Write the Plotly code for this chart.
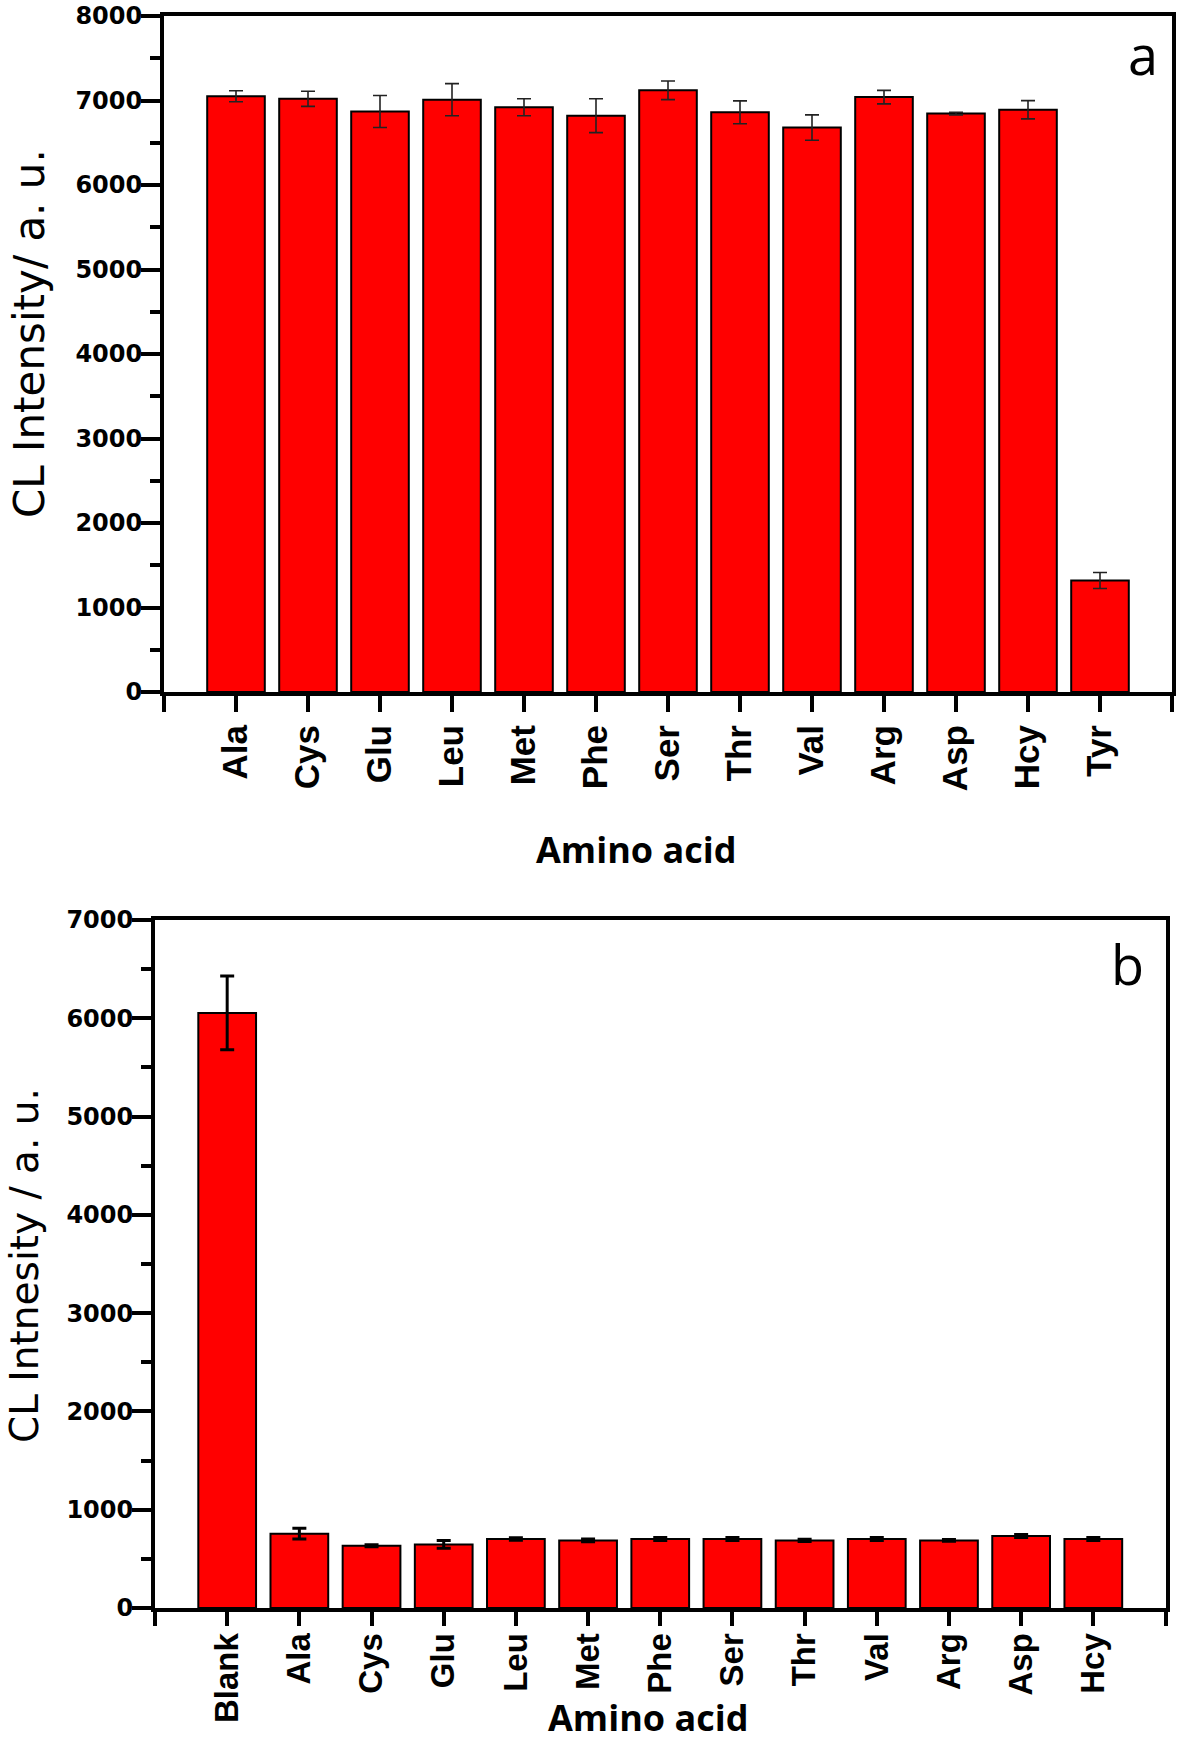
import plotly.graph_objects as go

# ---------------- data ----------------
cats_a = ["Ala", "Cys", "Glu", "Leu", "Met", "Phe", "Ser", "Thr", "Val", "Arg", "Asp", "Hcy", "Tyr"]
vals_a = [7050, 7020, 6870, 7010, 6920, 6820, 7120, 6860, 6680, 7040, 6845, 6890, 1320]
err_a = [65, 90, 190, 190, 100, 200, 110, 135, 150, 80, 15, 108, 95]

cats_b = ["Blank", "Ala", "Cys", "Glu", "Leu", "Met", "Phe", "Ser", "Thr", "Val", "Arg", "Asp", "Hcy"]
vals_b = [6055, 756, 634, 647, 702, 688, 702, 702, 688, 702, 688, 732, 702]
err_b = [375, 55, 10, 40, 12, 15, 15, 15, 12, 15, 8, 15, 15]

ytitle_a = "CL Intensity/ a. u."
ytitle_b = "CL Intnesity / a. u."
xtitle = "Amino acid"

# ---------------- figure ----------------
W, H = 1181, 1746
fig = go.Figure()

pos_a = list(range(len(cats_a)))
pos_b = list(range(len(cats_b)))

fig.add_trace(go.Bar(
    x=pos_a, y=vals_a, width=0.8,
    marker=dict(color="#ff0000", line=dict(color="black", width=2)),
    error_y=dict(type="data", array=err_a, visible=True, color="#222222", thickness=1.6, width=7),
    xaxis="x", yaxis="y", showlegend=False,
))
fig.add_trace(go.Bar(
    x=pos_b, y=vals_b, width=0.8,
    marker=dict(color="#ff0000", line=dict(color="black", width=2)),
    error_y=dict(type="data", array=err_b, visible=True, color="black", thickness=3, width=7),
    xaxis="x2", yaxis="y2", showlegend=False,
))

def px(x):
    return x / W

def py(y):
    return 1 - y / H

ytick_font = dict(family="DejaVu Sans", size=24, color="black", weight="bold")

def xaxis_cfg(cats, domain, anchor, standoff, ticklen, fsize):
    n = len(cats)
    return dict(
        domain=domain, anchor=anchor, range=[-1, n], automargin=False,
        tickmode="array", tickvals=list(range(-1, n + 1)),
        ticktext=[""] + cats + [""],
        tickangle=-90,
        tickfont=dict(family="Liberation Sans", size=fsize, color="black", weight="bold"),
        ticks="outside", ticklen=ticklen, tickwidth=4, tickcolor="black",
        showline=True, linewidth=4, linecolor="black", mirror=True,
        showgrid=False, zeroline=False, ticklabelstandoff=standoff,
    )

def yaxis_cfg(domain, anchor, top):
    return dict(
        domain=domain, anchor=anchor, range=[0, top], automargin=False,
        tickmode="linear", tick0=0, dtick=1000,
        tickfont=ytick_font,
        ticks="outside", ticklen=19, tickwidth=4, tickcolor="black",
        minor=dict(dtick=500, ticks="outside", ticklen=10, tickwidth=4, tickcolor="black", showgrid=False),
        showline=True, linewidth=4, linecolor="black", mirror=True,
        showgrid=False, zeroline=False, ticklabelstandoff=-6,
    )

fig.update_layout(
    width=W, height=H,
    margin=dict(l=0, r=0, t=0, b=0, autoexpand=False),
    paper_bgcolor="white", plot_bgcolor="white",
    bargap=0.2,
    xaxis=xaxis_cfg(cats_a, [px(164), px(1172)], "y", -1, 16, 35),
    yaxis=yaxis_cfg([py(692), py(16)], "x", 8000),
    xaxis2=xaxis_cfg(cats_b, [px(155), px(1165.5)], "y2", -6, 14, 33),
    yaxis2=yaxis_cfg([py(1608), py(920)], "x2", 7000),
)

ann = []
# axis titles
ann.append(dict(text=xtitle, x=px(636), y=py(849), xref="paper", yref="paper",
                xanchor="center", yanchor="middle", showarrow=False,
                font=dict(family="Open Sans", size=36, color="black", weight="bold")))
ann.append(dict(text=xtitle, x=px(648), y=py(1717), xref="paper", yref="paper",
                xanchor="center", yanchor="middle", showarrow=False,
                font=dict(family="Open Sans", size=36, color="black", weight="bold")))
ann.append(dict(text=ytitle_a, x=px(29), y=py(334), xref="paper", yref="paper",
                xanchor="center", yanchor="middle", showarrow=False, textangle=-90,
                font=dict(family="DejaVu Sans", size=42, color="black")))
ann.append(dict(text=ytitle_b, x=px(24), y=py(1266), xref="paper", yref="paper",
                xanchor="center", yanchor="middle", showarrow=False, textangle=-90,
                font=dict(family="DejaVu Sans", size=39, color="black")))
# panel labels
ann.append(dict(text="a", x=px(1143), y=py(54), xref="paper", yref="paper",
                xanchor="center", yanchor="middle", showarrow=False,
                font=dict(family="Open Sans", size=54, color="black")))
ann.append(dict(text="b", x=px(1127), y=py(964), xref="paper", yref="paper",
                xanchor="center", yanchor="middle", showarrow=False,
                font=dict(family="Open Sans", size=54, color="black")))
fig.update_layout(annotations=ann)

# remove the default page margin so the figure fills the 1181x1746 window exactly
fig.write_html("out.html", config={"displayModeBar": False},
               post_script="document.body.style.margin='0px';")
